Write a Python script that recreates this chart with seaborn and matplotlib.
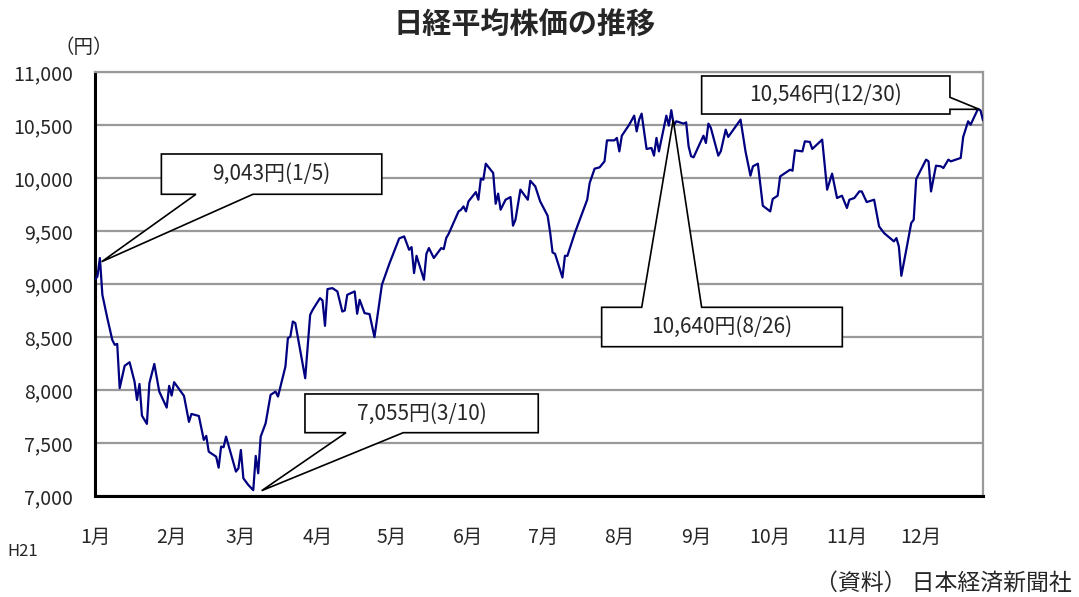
import numpy as np
import pandas as pd
import seaborn as sns
import matplotlib
matplotlib.use("Agg")
import matplotlib.pyplot as plt
from matplotlib.patches import Polygon
from matplotlib.ticker import FuncFormatter

#####        日経平均株価 (H21) : 1/5 からの経過日数 と 終値(円) グラフから読み取り        #####
days = [0, 1, 2, 3, 5, 7, 8, 9, 10, 12, 14, 16, 17, 18, 19, 21, 22, 24, 26, 29,
        30, 31, 32, 36, 38, 39, 42, 44, 45, 46, 49, 50, 51, 52, 53, 57, 58, 59, 60, 62,
        64, 65, 66, 67, 69, 71, 73, 74, 77, 78, 79, 80, 81, 85, 87, 88, 91, 92, 93, 94,
        96, 98, 100, 101, 102, 105, 106, 107, 109, 111, 113, 116, 119, 123, 125, 127, 128, 129, 130, 133,
        134, 135, 137, 140, 141, 142, 143, 147, 148, 149, 150, 151, 154, 155, 156, 157, 158, 161, 162, 163,
        164, 166, 168, 169, 170, 172, 175, 176, 178, 180, 183, 184, 185, 186, 189, 190, 191, 194, 199, 200,
        202, 204, 206, 207, 210, 211, 212, 213, 216, 218, 219, 220, 221, 223, 225, 226, 227, 228, 231, 232,
        233, 234, 235, 238, 239, 240, 241, 242, 246, 247, 248, 249, 252, 253, 255, 256, 261, 263, 265, 266,
        268, 270, 273, 274, 276, 277, 281, 282, 283, 286, 287, 289, 290, 294, 296, 298, 300, 302, 304, 305,
        307, 309, 310, 312, 315, 316, 317, 319, 323, 324, 325, 326, 328, 330, 331, 332, 336, 337, 338, 340,
        342, 343, 345, 346, 350, 351, 353, 354, 357, 358, 359]
prices = [9043, 9070, 9245, 8898, 8678, 8473, 8426, 8435, 8017, 8228, 8262, 8079, 7906, 8057, 7758, 7680, 8064, 8246, 7985, 7834,
          8039, 7947, 8074, 7944, 7699, 7774, 7755, 7529, 7567, 7418, 7371, 7267, 7466, 7460, 7560, 7230, 7261, 7434, 7167, 7104,
          7055, 7378, 7214, 7560, 7686, 7954, 7985, 7938, 8221, 8489, 8504, 8646, 8631, 8111, 8709, 8756, 8867, 8844, 8605, 8952,
          8961, 8930, 8740, 8750, 8898, 8930, 8719, 8851, 8725, 8716, 8499, 8992, 9190, 9430, 9449, 9323, 9348, 9103, 9266, 9040,
          9285, 9339, 9245, 9339, 9329, 9433, 9474, 9685, 9701, 9732, 9685, 9779, 9867, 9795, 9993, 9984, 10135, 10047, 9757, 9852,
          9701, 9795, 9820, 9550, 9606, 9890, 9795, 9974, 9921, 9779, 9644, 9490, 9297, 9285, 9061, 9266, 9266, 9481, 9795, 9953,
          10088, 10100, 10157, 10355, 10355, 10378, 10251, 10399, 10503, 10588, 10440, 10551, 10607, 10274, 10283, 10211, 10378, 10251, 10588, 10494,
          10640, 10494, 10535, 10513, 10525, 10299, 10205, 10195, 10399, 10330, 10513, 10472, 10211, 10251, 10456, 10387, 10551, 10251, 10022, 10110,
          10135, 9738, 9685, 9802, 9833, 10015, 10078, 10069, 10261, 10251, 10346, 10340, 10274, 10362, 9890, 10041, 9811, 9833, 9717, 9795,
          9811, 9873, 9873, 9773, 9795, 9669, 9543, 9481, 9402, 9433, 9354, 9077, 9323, 9575, 9606, 9990, 10173, 10157, 9873, 10116,
          10110, 10094, 10173, 10157, 10189, 10387, 10535, 10503, 10652, 10638, 10546]

month_labels = [f"{m}月" for m in range(1, 13)]
y_ticks = list(range(7000, 11001, 500))

callout_texts = ["9,043円(1/5)", "7,055円(3/10)", "10,640円(8/26)", "10,546円(12/30)"]

#####                              Build frame                                        #####
start = pd.Timestamp("2009-01-05")
df = pd.DataFrame({"date": start + pd.to_timedelta(days, unit="D"), "price": prices})
month_ticks = [pd.Timestamp(2009, m, 5) for m in range(1, 13)]

sns.set_style("white")
plt.rcParams["font.family"] = ["Noto Sans CJK JP", "DejaVu Sans"]

fig = plt.figure(figsize=(10.79, 5.97), dpi=100)
ax = fig.add_axes([0.088, 0.1692, 0.823, 0.7102])

sns.lineplot(data=df, x="date", y="price", ax=ax, color="#000080", linewidth=1.6, zorder=3)

ax.set_xlim(start, pd.Timestamp("2009-12-30"))
ax.set_ylim(7000, 11000)
ax.set_xticks(month_ticks)
ax.set_xticklabels(month_labels)
ax.set_yticks(y_ticks)
ax.yaxis.set_major_formatter(FuncFormatter(lambda v, p: f"{int(v):,}"))
ax.set_xlabel("")
ax.set_ylabel("")

ax.yaxis.grid(True, color="#999999", linewidth=1.6, zorder=0)
ax.xaxis.grid(False)
ax.set_axisbelow(True)
ax.tick_params(axis="both", direction="in", length=5, width=1.5, color="black", labelsize=14)
ax.tick_params(axis="x", pad=22)
ax.tick_params(axis="y", pad=16)
for s in ["left", "bottom"]:
    ax.spines[s].set_color("black")
    ax.spines[s].set_linewidth(2.2)
for s in ["top", "right"]:
    ax.spines[s].set_color("#999999")
    ax.spines[s].set_linewidth(1.6)

#####                    callouts (axes fraction: box, wedge base, tip)               #####
boxes = [(0.0748, 0.7116, 0.3230, 0.8066),
         (0.2365, 0.1493, 0.4992, 0.2406),
         (0.5706, 0.3521, 0.8416, 0.4450),
         (0.6832, 0.9009, 0.9628, 0.9906)]
wedges = [(0.1137, 0.1779), (0.2827, 0.3472), (0.6157, 0.6832), (0.9403, 0.9120)]
tips = [(0.0076, 0.5526), (0.1877, 0.0125), (0.6512, 0.8868), (0.9958, 0.9120)]
sides = ["bottom", "bottom", "top", "right"]

for box, wedge, tip, side, txt in zip(boxes, wedges, tips, sides, callout_texts):
    x0, y0, x1, y1 = box
    a, b = wedge
    if side == "bottom":
        pts = [(x0, y1), (x1, y1), (x1, y0), (b, y0), tip, (a, y0), (x0, y0)]
    elif side == "top":
        pts = [(x0, y0), (x1, y0), (x1, y1), (b, y1), tip, (a, y1), (x0, y1)]
    else:
        pts = [(x0, y1), (x1, y1), (x1, a), tip, (x1, b), (x1, y0), (x0, y0)]
    ax.add_patch(Polygon(pts, closed=True, transform=ax.transAxes, facecolor="white",
                         edgecolor="black", linewidth=1.2, clip_on=False, zorder=5))
    ax.text((x0 + x1) / 2, (y0 + y1) / 2, txt, transform=ax.transAxes, ha="center",
            va="center", fontsize=15, zorder=6)

fig.text(0.4866, 0.9605, "日経平均株価の推移", ha="center", va="center", fontsize=21, fontweight="bold")
fig.text(0.078, 0.921, "（円）", ha="center", va="center", fontsize=14)
fig.text(0.0213, 0.077, "H21", ha="center", va="center", fontsize=12)
fig.text(0.9935, 0.0235, "（資料） 日本経済新聞社", ha="right", va="center", fontsize=16.5)

fig.savefig("out.png", dpi=100)
